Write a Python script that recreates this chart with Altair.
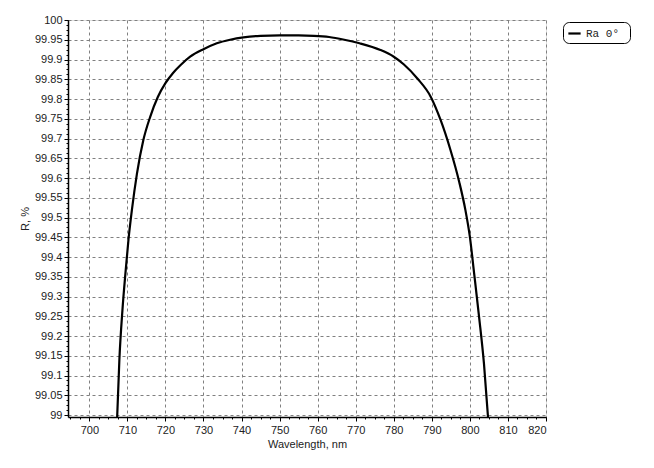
import altair as alt
import pandas as pd

# Curve (wavelength nm, reflectance %)
wavelength = [707.3, 707.9, 708.7, 709.5, 710.3, 711.2, 712.5, 714.2, 716.0, 718.0,
              720.0, 722.0, 724.0, 726.5, 730.0, 733.5, 737.0, 740.5, 745.0, 750.0,
              755.0, 759.0, 763.0, 767.0, 771.0, 776.5, 780.0, 782.6, 786.2, 789.7,
              792.3, 794.9, 797.2, 798.8, 800.0, 801.1, 802.4, 803.7, 804.8]
reflect = [98.99, 99.14, 99.265, 99.36, 99.445, 99.52, 99.61, 99.696, 99.755, 99.805,
           99.84, 99.866, 99.886, 99.907, 99.926, 99.941, 99.950, 99.956, 99.960, 99.961,
           99.961, 99.960, 99.957, 99.950, 99.941, 99.924, 99.907, 99.888, 99.852, 99.806,
           99.747, 99.671, 99.59, 99.52, 99.451, 99.36, 99.25, 99.13, 98.99]
series_name = ["Ra  0°"]

x_major = list(range(700, 821, 10))
y_major = [round(99 + 0.05 * i, 2) for i in range(21)]
x_minor = [700 + 2.5 * i for i in range(-2, 49)]
y_minor = [round(99 + 0.0125 * i, 4) for i in range(81)]

df = pd.DataFrame({"wl": wavelength, "R": reflect, "s": series_name * len(wavelength)})

FONT = "Liberation Sans"
xs = alt.Scale(domain=[694.4, 820], nice=False, zero=False)
ys = alt.Scale(domain=[98.995, 100], nice=False, zero=False)

line = alt.Chart(df).mark_line(color="black", strokeWidth=2.2, clip=True, interpolate="monotone").encode(
    x=alt.X("wl:Q", scale=xs, axis=alt.Axis(
        values=x_major, title="Wavelength, nm", format="d", grid=True,
        gridColor="#808080", gridDash=[3, 3], gridWidth=1,
        domainColor="black", domainWidth=1.5, tickColor="black", tickSize=4,
        labelFont=FONT, labelFontSize=11, labelColor="#222", labelPadding=3,
        titleFont=FONT, titleFontSize=11, titleFontWeight="normal", titleColor="#222",
        titlePadding=3, orient="bottom")),
    y=alt.Y("R:Q", scale=ys, axis=alt.Axis(
        values=y_major, title="R, %", grid=True, labelExpr="format(datum.value, '.2~f')",
        gridColor="#808080", gridDash=[3, 3], gridWidth=1,
        domainColor="black", domainWidth=1.5, tickColor="black", tickSize=4,
        labelFont=FONT, labelFontSize=11, labelColor="#222", labelPadding=2,
        titleFont=FONT, titleFontSize=11, titleFontWeight="normal", titleColor="#222",
        titlePadding=4, orient="left")),
    stroke=alt.Stroke("s:N", scale=alt.Scale(range=["black"]), legend=alt.Legend(
        title=None, orient="none", legendX=495, legendY=2,
        symbolType="stroke", symbolStrokeWidth=2.2, symbolSize=150,
        labelFont="Liberation Mono", labelFontSize=11, labelColor="#222",
        strokeColor="black", cornerRadius=6, padding=4, fillColor="white")),
)

minor = alt.Chart(df).mark_line(opacity=0).encode(
    x=alt.X("wl:Q", scale=xs, axis=alt.Axis(
        values=x_minor, labels=False, title=None, grid=False, domain=False,
        tickColor="black", tickSize=2, orient="bottom")),
    y=alt.Y("R:Q", scale=ys, axis=alt.Axis(
        values=y_minor, labels=False, title=None, grid=False, domain=False,
        tickColor="black", tickSize=2, orient="left")),
)

chart = alt.layer(line, minor).resolve_axis(x="independent", y="independent").properties(
    width=478, height=397,
    autosize=alt.AutoSizeParams(type="none"),
    padding={"left": 60, "top": 12, "right": 100, "bottom": 43},
).configure_view(stroke=None).configure(background="white")

chart.save("out.html", embed_options={"renderer": "svg", "actions": False})
